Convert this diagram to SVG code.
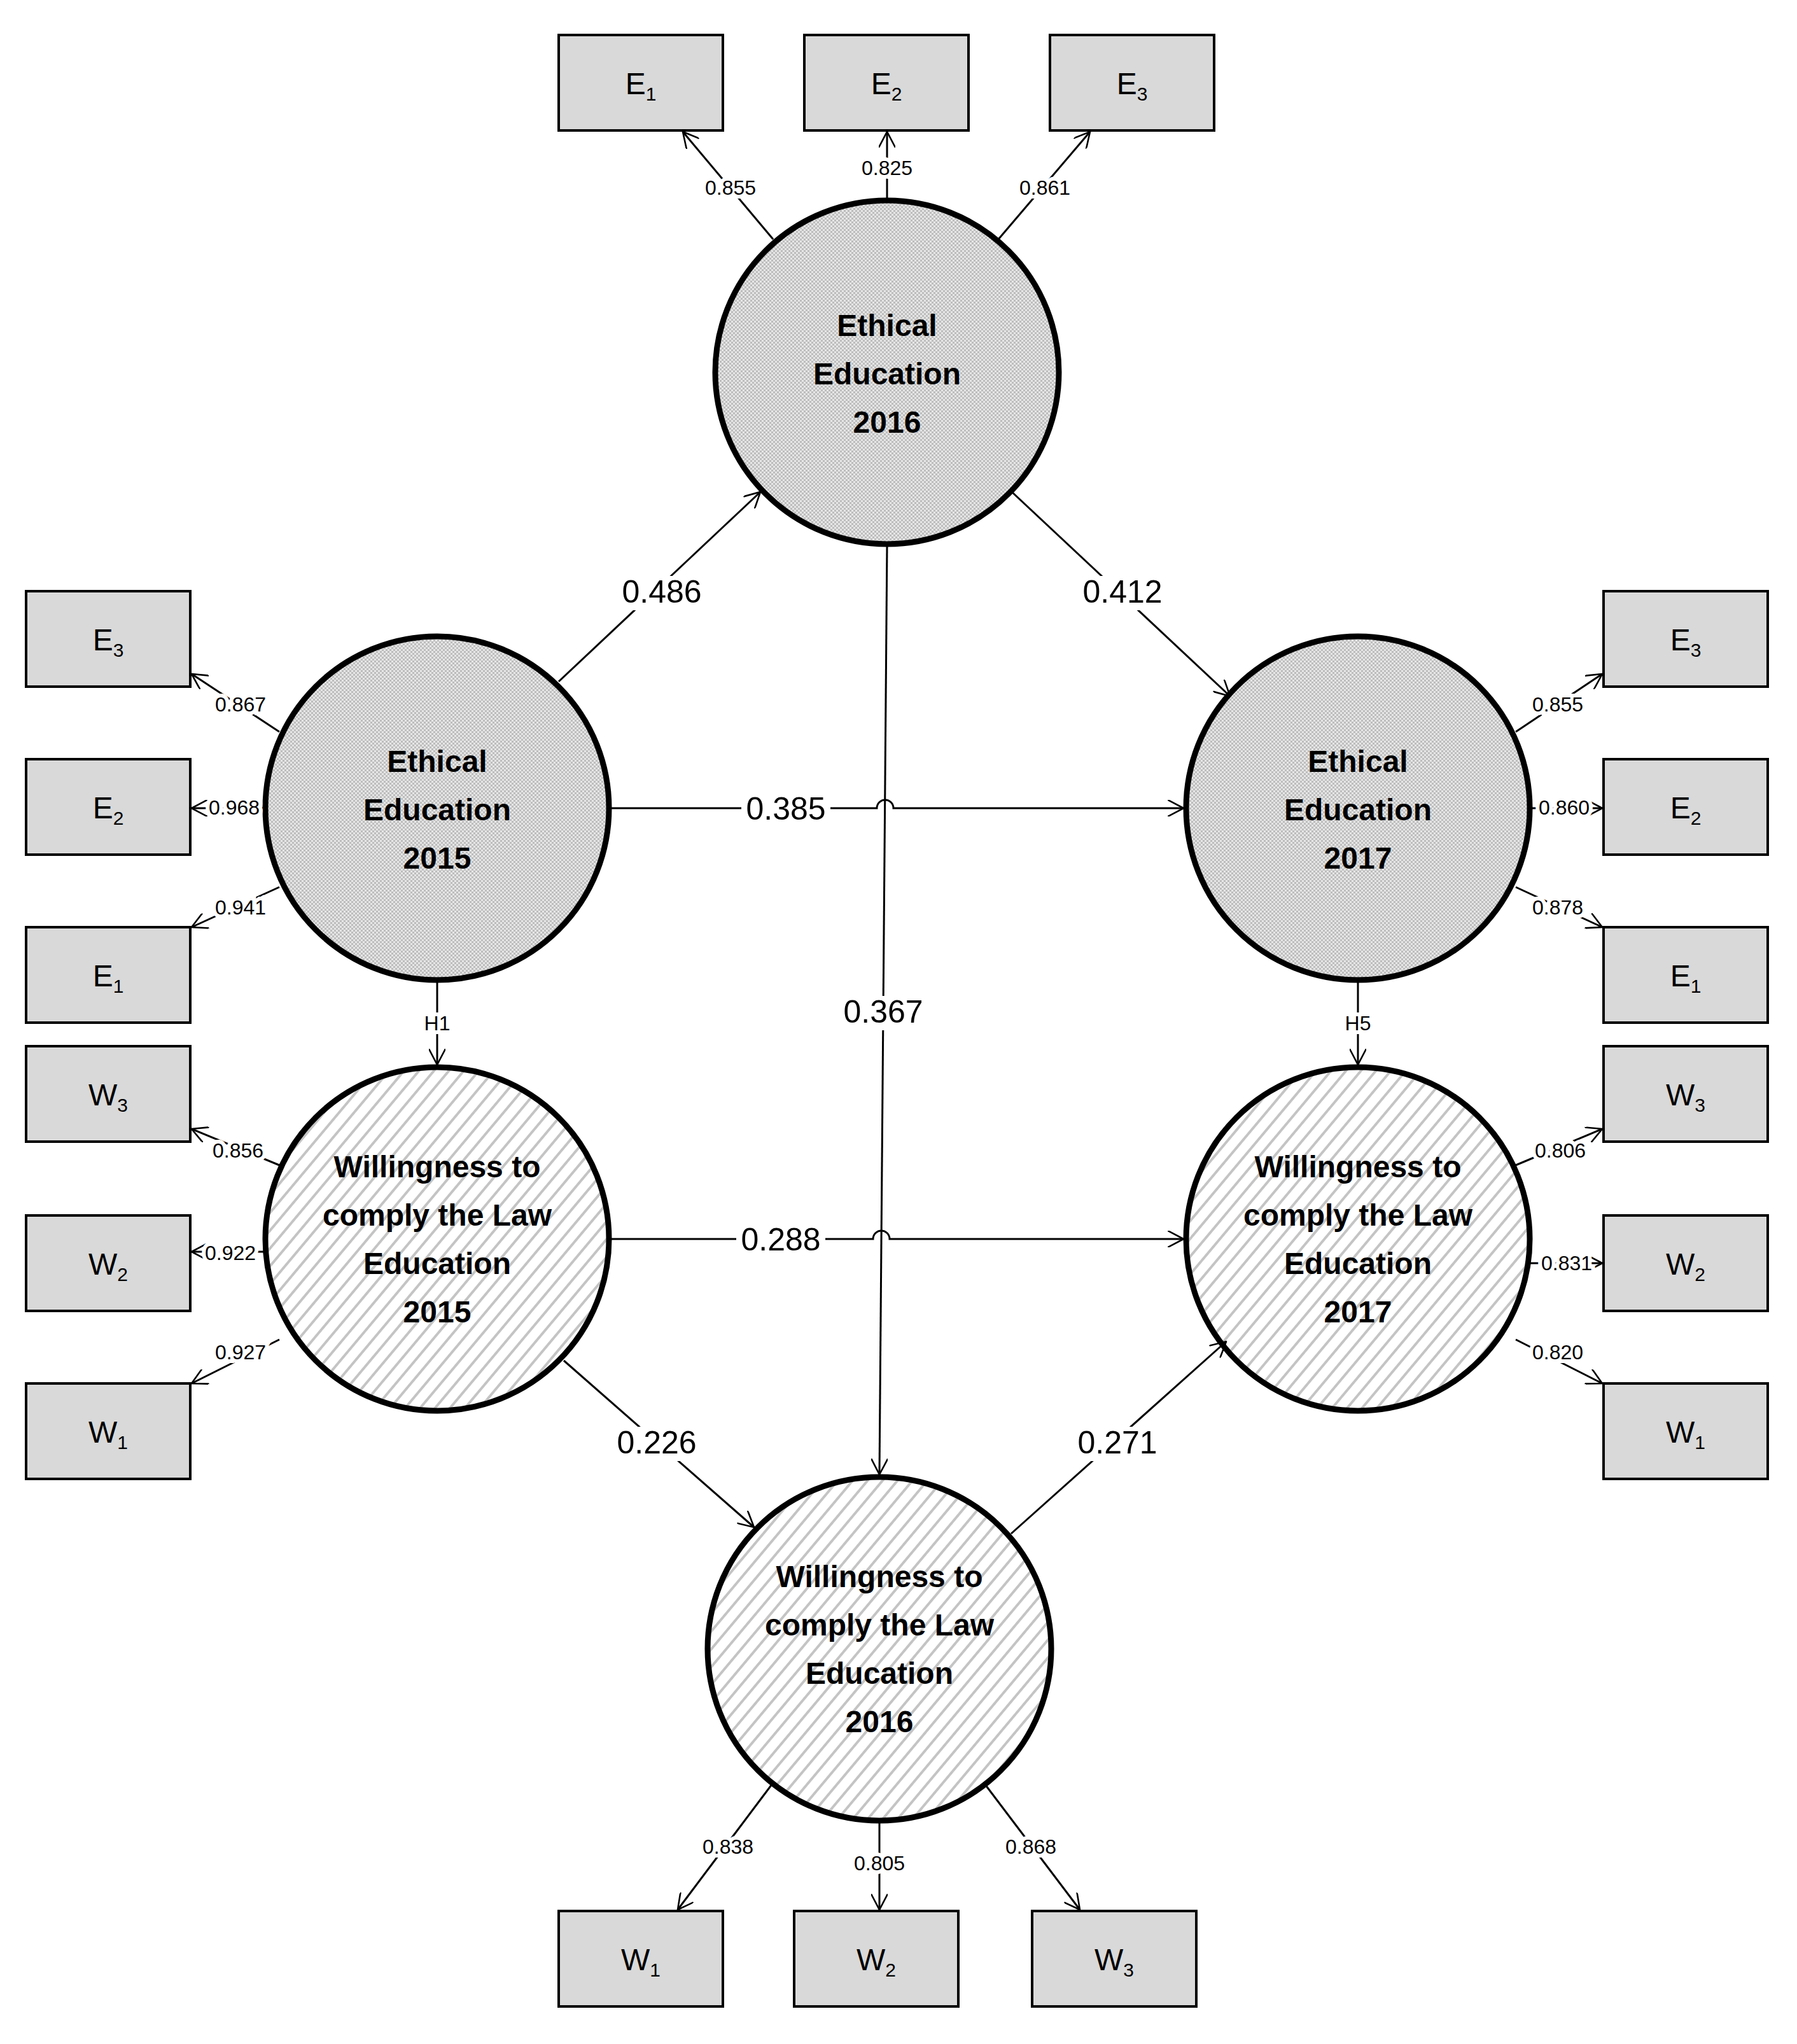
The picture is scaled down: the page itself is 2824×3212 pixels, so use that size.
<svg xmlns="http://www.w3.org/2000/svg" width="2824" height="3212" viewBox="0 0 2824 3212">
<style>
.box{fill:#d9d9d9;stroke:#000;stroke-width:4}
.lat{stroke:#000;stroke-width:9}
.ee{fill:url(#dots)}
.wl{fill:url(#hatch)}
.ln{stroke:#000;stroke-width:3;fill:none}
.arr{marker-end:url(#ah)}
.bg{fill:#fff}
text{font-family:"Liberation Sans",Arial,sans-serif;text-anchor:middle;fill:#000}
.bt{font-size:48px}
.sub{font-size:30px}
.nt{font-size:48px;font-weight:bold}
.lb{font-size:50px}
.sl{font-size:32px;stroke:#fff;stroke-width:12px;paint-order:stroke}
</style>
<defs>
<pattern id="dots" width="6" height="6" patternUnits="userSpaceOnUse">
<rect width="6" height="6" fill="#e6e6e6"/>
<rect width="3" height="3" fill="#bdbdbd"/>
<rect x="3" y="3" width="3" height="3" fill="#bdbdbd"/>
</pattern>
<pattern id="hatch" width="18" height="18" patternUnits="userSpaceOnUse" patternTransform="rotate(40)">
<rect width="18" height="18" fill="#fff"/>
<rect width="4" height="18" fill="#c4c4c4"/>
</pattern>
<marker id="ah" viewBox="0 0 20 20" refX="19" refY="10" markerWidth="26" markerHeight="26" markerUnits="userSpaceOnUse" orient="auto">
<path d="M0,0 L19,10 L0,20" fill="none" stroke="#000" stroke-width="2"/>
</marker>
</defs>
<rect width="2824" height="3212" fill="#fff"/>

<g id="EE2016"><circle class="lat ee" cx="1394" cy="585" r="270"/>
<text class="nt" x="1394" y="528">Ethical</text><text class="nt" x="1394" y="604">Education</text><text class="nt" x="1394" y="680">2016</text></g>
<g id="EE2015"><circle class="lat ee" cx="687" cy="1270" r="270"/>
<text class="nt" x="687" y="1213">Ethical</text><text class="nt" x="687" y="1289">Education</text><text class="nt" x="687" y="1365">2015</text></g>
<g id="EE2017"><circle class="lat ee" cx="2134" cy="1270" r="270"/>
<text class="nt" x="2134" y="1213">Ethical</text><text class="nt" x="2134" y="1289">Education</text><text class="nt" x="2134" y="1365">2017</text></g>
<g id="W2015"><circle class="lat wl" cx="687" cy="1947" r="270"/>
<text class="nt" x="687" y="1850">Willingness to</text><text class="nt" x="687" y="1926">comply the Law</text><text class="nt" x="687" y="2002">Education</text><text class="nt" x="687" y="2078">2015</text></g>
<g id="W2017"><circle class="lat wl" cx="2134" cy="1947" r="270"/>
<text class="nt" x="2134" y="1850">Willingness to</text><text class="nt" x="2134" y="1926">comply the Law</text><text class="nt" x="2134" y="2002">Education</text><text class="nt" x="2134" y="2078">2017</text></g>
<g id="W2016"><circle class="lat wl" cx="1382" cy="2591" r="270"/>
<text class="nt" x="1382" y="2494">Willingness to</text><text class="nt" x="1382" y="2570">comply the Law</text><text class="nt" x="1382" y="2646">Education</text><text class="nt" x="1382" y="2722">2016</text></g>

<g id="topE1"><rect class="box" x="878" y="55" width="258" height="150"/><text class="bt" x="1007" y="148">E<tspan class="sub" dy="10">1</tspan></text></g>
<g id="topE2"><rect class="box" x="1264" y="55" width="258" height="150"/><text class="bt" x="1393" y="148">E<tspan class="sub" dy="10">2</tspan></text></g>
<g id="topE3"><rect class="box" x="1650" y="55" width="258" height="150"/><text class="bt" x="1779" y="148">E<tspan class="sub" dy="10">3</tspan></text></g>
<g id="lE3"><rect class="box" x="41" y="929" width="258" height="150"/><text class="bt" x="170" y="1022">E<tspan class="sub" dy="10">3</tspan></text></g>
<g id="lE2"><rect class="box" x="41" y="1193" width="258" height="150"/><text class="bt" x="170" y="1286">E<tspan class="sub" dy="10">2</tspan></text></g>
<g id="lE1"><rect class="box" x="41" y="1457" width="258" height="150"/><text class="bt" x="170" y="1550">E<tspan class="sub" dy="10">1</tspan></text></g>
<g id="lW3"><rect class="box" x="41" y="1644" width="258" height="150"/><text class="bt" x="170" y="1737">W<tspan class="sub" dy="10">3</tspan></text></g>
<g id="lW2"><rect class="box" x="41" y="1910" width="258" height="150"/><text class="bt" x="170" y="2003">W<tspan class="sub" dy="10">2</tspan></text></g>
<g id="lW1"><rect class="box" x="41" y="2174" width="258" height="150"/><text class="bt" x="170" y="2267">W<tspan class="sub" dy="10">1</tspan></text></g>
<g id="rE3"><rect class="box" x="2520" y="929" width="258" height="150"/><text class="bt" x="2649" y="1022">E<tspan class="sub" dy="10">3</tspan></text></g>
<g id="rE2"><rect class="box" x="2520" y="1193" width="258" height="150"/><text class="bt" x="2649" y="1286">E<tspan class="sub" dy="10">2</tspan></text></g>
<g id="rE1"><rect class="box" x="2520" y="1457" width="258" height="150"/><text class="bt" x="2649" y="1550">E<tspan class="sub" dy="10">1</tspan></text></g>
<g id="rW3"><rect class="box" x="2520" y="1644" width="258" height="150"/><text class="bt" x="2649" y="1737">W<tspan class="sub" dy="10">3</tspan></text></g>
<g id="rW2"><rect class="box" x="2520" y="1910" width="258" height="150"/><text class="bt" x="2649" y="2003">W<tspan class="sub" dy="10">2</tspan></text></g>
<g id="rW1"><rect class="box" x="2520" y="2174" width="258" height="150"/><text class="bt" x="2649" y="2267">W<tspan class="sub" dy="10">1</tspan></text></g>
<g id="bW1"><rect class="box" x="878" y="3003" width="258" height="150"/><text class="bt" x="1007" y="3096">W<tspan class="sub" dy="10">1</tspan></text></g>
<g id="bW2"><rect class="box" x="1248" y="3003" width="258" height="150"/><text class="bt" x="1377" y="3096">W<tspan class="sub" dy="10">2</tspan></text></g>
<g id="bW3"><rect class="box" x="1622" y="3003" width="258" height="150"/><text class="bt" x="1751" y="3096">W<tspan class="sub" dy="10">3</tspan></text></g>

<g id="connectors">
<line class="ln arr" x1="1215" y1="376" x2="1073" y2="207"/>
<line class="ln arr" x1="1394" y1="315" x2="1394" y2="207"/>
<line class="ln arr" x1="1569" y1="376" x2="1713" y2="207"/>
<line class="ln arr" x1="878" y1="1071" x2="1195" y2="773"/>
<line class="ln arr" x1="1589" y1="772" x2="1933" y2="1094"/>
<path class="ln arr" d="M959,1270 H1378 A13,13 0 0 1 1404,1270 H1860"/>
<path class="ln arr" d="M959,1947 H1372 A13,13 0 0 1 1398,1947 H1860"/>
<line class="ln arr" x1="1394" y1="858" x2="1382" y2="2317"/>
<line class="ln arr" x1="687" y1="1540" x2="687" y2="1673"/>
<line class="ln arr" x1="2134" y1="1540" x2="2134" y2="1673"/>
<line class="ln arr" x1="886" y1="2138" x2="1185" y2="2400"/>
<line class="ln arr" x1="1589" y1="2410" x2="1927" y2="2108"/>
<line class="ln arr" x1="1213" y1="2804" x2="1065" y2="3001"/>
<line class="ln arr" x1="1382" y1="2861" x2="1382" y2="3001"/>
<line class="ln arr" x1="1548" y1="2804" x2="1697" y2="3001"/>
<line class="ln arr" x1="439" y1="1150" x2="301" y2="1059"/>
<line class="ln arr" x1="417" y1="1270" x2="301" y2="1270"/>
<line class="ln arr" x1="439" y1="1394" x2="301" y2="1457"/>
<line class="ln arr" x1="439" y1="1831" x2="301" y2="1774"/>
<line class="ln arr" x1="417" y1="1967" x2="301" y2="1967"/>
<line class="ln arr" x1="439" y1="2105" x2="301" y2="2174"/>
<line class="ln arr" x1="2382" y1="1150" x2="2518" y2="1059"/>
<line class="ln arr" x1="2404" y1="1270" x2="2518" y2="1270"/>
<line class="ln arr" x1="2382" y1="1394" x2="2518" y2="1457"/>
<line class="ln arr" x1="2382" y1="1831" x2="2518" y2="1774"/>
<line class="ln arr" x1="2404" y1="1985" x2="2518" y2="1985"/>
<line class="ln arr" x1="2382" y1="2105" x2="2518" y2="2174"/>
<rect class="bg" x="970" y="905" width="140" height="54"/>
<rect class="bg" x="1694" y="905" width="140" height="54"/>
<rect class="bg" x="1165" y="1246" width="140" height="54"/>
<rect class="bg" x="1318" y="1565" width="140" height="54"/>
<rect class="bg" x="1157" y="1923" width="140" height="54"/>
<rect class="bg" x="962" y="2242" width="140" height="54"/>
<rect class="bg" x="1686" y="2242" width="140" height="54"/>
<text class="lb" x="1040" y="947">0.486</text>
<text class="lb" x="1764" y="947">0.412</text>
<text class="lb" x="1235" y="1288">0.385</text>
<text class="lb" x="1388" y="1607">0.367</text>
<text class="lb" x="1227" y="1965">0.288</text>
<text class="lb" x="1032" y="2284">0.226</text>
<text class="lb" x="1756" y="2284">0.271</text>
<text class="sl" x="1148" y="306">0.855</text>
<text class="sl" x="1394" y="275">0.825</text>
<text class="sl" x="1642" y="306">0.861</text>
<text class="sl" x="687" y="1619">H1</text>
<text class="sl" x="2134" y="1619">H5</text>
<text class="sl" x="1144" y="2913">0.838</text>
<text class="sl" x="1382" y="2939">0.805</text>
<text class="sl" x="1620" y="2913">0.868</text>
<text class="sl" x="378" y="1118">0.867</text>
<text class="sl" x="368" y="1280">0.968</text>
<text class="sl" x="378" y="1437">0.941</text>
<text class="sl" x="374" y="1819">0.856</text>
<text class="sl" x="362" y="1980">0.922</text>
<text class="sl" x="378" y="2136">0.927</text>
<text class="sl" x="2448" y="1118">0.855</text>
<text class="sl" x="2458" y="1280">0.860</text>
<text class="sl" x="2448" y="1437">0.878</text>
<text class="sl" x="2452" y="1819">0.806</text>
<text class="sl" x="2462" y="1996">0.831</text>
<text class="sl" x="2448" y="2136">0.820</text>
</g>
</svg>
